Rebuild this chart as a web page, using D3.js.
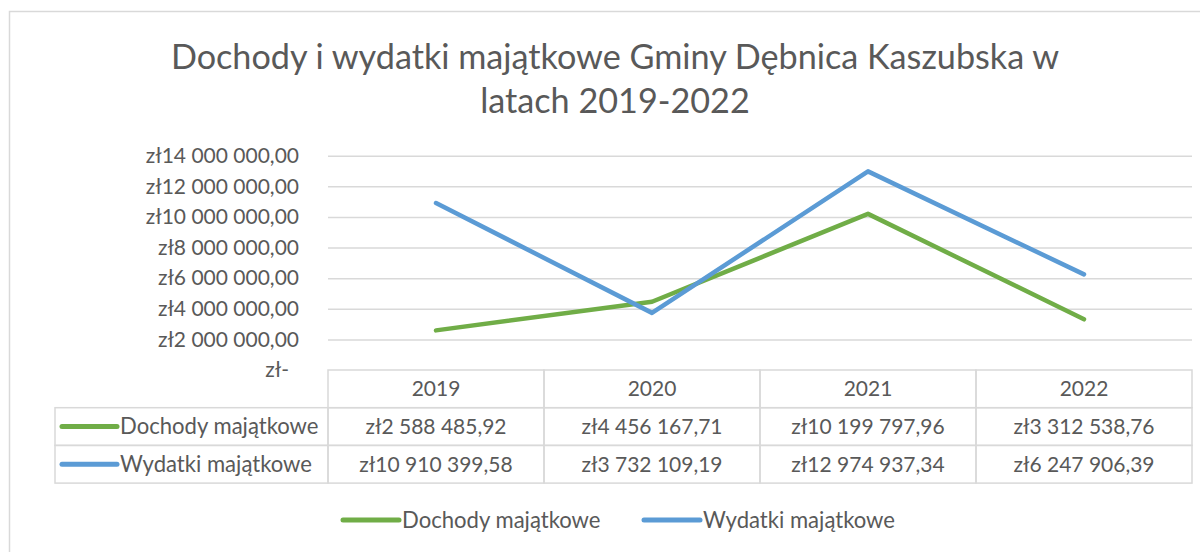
<!DOCTYPE html>
<html>
<head>
<meta charset="utf-8">
<script src="https://cdn.jsdelivr.net/npm/d3@7"></script>
<style>
  body { margin: 0; background: #fff; }
  svg { display: block; font-family: Lato, "Open Sans", sans-serif; }
</style>
</head>
<body>
<svg id="chart" width="1200" height="552"></svg>
<script>
/**
 * Data.
 */
const titleLines = ['Dochody i wydatki majątkowe Gminy Dębnica Kaszubska w', 'latach 2019-2022'];
const years = ['2019', '2020', '2021', '2022'];
const dochody = [2588485.92, 4456167.71, 10199797.96, 3312538.76];
const wydatki = [10910399.58, 3732109.19, 12974937.34, 6247906.39];
const yTicks = [0, 2000000, 4000000, 6000000, 8000000, 10000000, 12000000, 14000000];
const seriesNames = ['Dochody majątkowe', 'Wydatki majątkowe'];
const seriesColors = ['#70ad47', '#5b9bd5'];

const series = [
    { name: seriesNames[0], values: dochody, color: seriesColors[0] },
    { name: seriesNames[1], values: wydatki, color: seriesColors[1] }
];

/**
 * Visual configs.
 */
const textColor = '#595959',
    gridColor = '#d9d9d9';

const plot = { left: 328, right: 1192, top: 155.7, bottom: 370 },
    labelLeft = 55,
    rowHeight = 37.7;

/**
 * Formatting, Polish accounting style.
 */
const plLocale = d3.formatLocale({
    decimal: ',',
    thousands: ' ',
    grouping: [3],
    currency: ['zł', '']
});
const money = v => v === 0 ? 'zł-' : plLocale.format('$,.2f')(v);

/**
 * D3.
 */
const svg = d3.select('#chart');

const xScale = d3.scaleBand()
    .domain(years)
    .range([plot.left, plot.right]);

const yScale = d3.scaleLinear()
    .domain([0, d3.max(yTicks)])
    .range([plot.bottom, plot.top]);

// Outer chart border
svg.append('rect')
    .attr('x', 9.5).attr('y', 11.5)
    .attr('width', 1300).attr('height', 700)
    .attr('fill', 'none')
    .attr('stroke', gridColor)
    .attr('stroke-width', 1.5);

// Title
svg.append('g').attr('class', 'title')
    .selectAll('text')
    .data(titleLines)
    .join('text')
    .attr('x', 615)
    .attr('y', (d, i) => 69 + i * 44)
    .attr('text-anchor', 'middle')
    .attr('fill', textColor)
    .attr('font-size', 34.2)
    .text(d => d);

// Grid lines + y labels
const yAxis = d3.axisLeft(yScale)
    .tickValues(yTicks)
    .tickFormat(money)
    .tickSize(-(plot.right - plot.left))
    .tickPadding(29);

const yAxisContainer = svg.append('g')
    .attr('class', 'y-axis')
    .attr('transform', 'translate(' + plot.left + ',0)')
    .call(yAxis);

yAxisContainer.select('.domain').remove();
yAxisContainer.selectAll('.tick line')
    .attr('stroke', gridColor)
    .attr('stroke-width', 1.5)
    .attr('display', d => d === 0 ? 'none' : null);
yAxisContainer.selectAll('.tick text')
    .attr('fill', textColor)
    .attr('font-size', 21)
    .attr('font-family', 'Lato, sans-serif')
    .attr('dx', d => d === 0 ? -10 : 0);

// Lines
const line = d3.line()
    .x((d, i) => xScale(years[i]) + xScale.bandwidth() / 2)
    .y(d => yScale(d));

svg.append('g').attr('class', 'lines')
    .selectAll('path')
    .data(series)
    .join('path')
    .attr('d', d => line(d.values))
    .attr('fill', 'none')
    .attr('stroke', d => d.color)
    .attr('stroke-width', 4.5)
    .attr('stroke-linecap', 'round')
    .attr('stroke-linejoin', 'round');

/**
 * Data table.
 */
const table = svg.append('g').attr('class', 'table');
const tableTop = plot.bottom;

// Header row (years)
const header = table.selectAll('.head')
    .data(years)
    .join('g')
    .attr('class', 'head');

header.append('rect')
    .attr('x', d => xScale(d))
    .attr('y', tableTop)
    .attr('width', xScale.bandwidth())
    .attr('height', rowHeight);

header.append('text')
    .attr('x', d => xScale(d) + xScale.bandwidth() / 2)
    .attr('y', tableTop + rowHeight / 2)
    .attr('font-size', 21)
    .text(d => d);

// Series rows
const rows = table.selectAll('.row')
    .data(series)
    .join('g')
    .attr('class', 'row')
    .attr('transform', (d, i) => 'translate(0,' + (tableTop + rowHeight * (i + 1)) + ')');

rows.append('rect')
    .attr('x', labelLeft)
    .attr('y', 0)
    .attr('width', plot.left - labelLeft)
    .attr('height', rowHeight);

rows.append('line')
    .attr('x1', labelLeft + 7).attr('x2', labelLeft + 62)
    .attr('y1', rowHeight / 2).attr('y2', rowHeight / 2)
    .attr('stroke', d => d.color)
    .attr('stroke-width', 5)
    .attr('stroke-linecap', 'round');

rows.append('text')
    .attr('x', labelLeft + 65)
    .attr('y', rowHeight / 2)
    .attr('text-anchor', 'start')
    .attr('font-size', 22.1)
    .text(d => d.name);

rows.each(function(s) {
    const cells = d3.select(this).selectAll('.cell')
        .data(s.values)
        .join('g')
        .attr('class', 'cell');

    cells.append('rect')
        .attr('x', (d, i) => xScale(years[i]))
        .attr('y', 0)
        .attr('width', xScale.bandwidth())
        .attr('height', rowHeight);

    cells.append('text')
        .attr('x', (d, i) => xScale(years[i]) + xScale.bandwidth() / 2)
        .attr('y', rowHeight / 2)
        .attr('font-size', 21)
        .text(money);
});

table.selectAll('rect')
    .attr('fill', 'none')
    .attr('stroke', gridColor)
    .attr('stroke-width', 1.5);

table.selectAll('text')
    .attr('fill', textColor)
    .attr('dy', '0.35em')
    .filter(function() { return !d3.select(this).attr('text-anchor'); })
    .attr('text-anchor', 'middle');

/**
 * Legend.
 */
const legendItems = [
    { s: series[0], x: 343 },
    { s: series[1], x: 644 }
];

const legend = svg.append('g').attr('class', 'legend')
    .selectAll('g')
    .data(legendItems)
    .join('g')
    .attr('transform', d => 'translate(' + d.x + ',520)');

legend.append('line')
    .attr('x1', 0).attr('x2', 56)
    .attr('stroke', d => d.s.color)
    .attr('stroke-width', 5)
    .attr('stroke-linecap', 'round');

legend.append('text')
    .attr('x', 59)
    .attr('dy', '0.35em')
    .attr('fill', textColor)
    .attr('font-size', 22.1)
    .text(d => d.s.name);
</script>
</body>
</html>
